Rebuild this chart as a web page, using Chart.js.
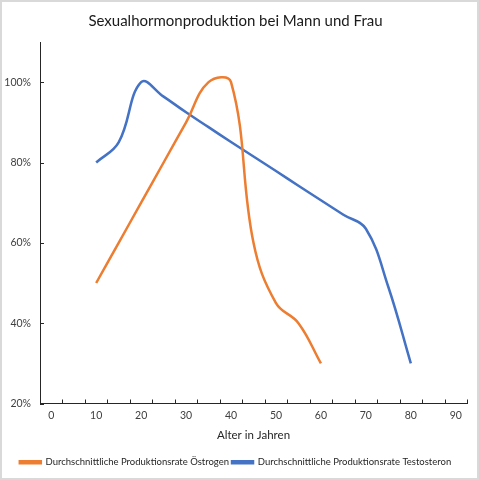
<!DOCTYPE html>
<html lang="de">
<head>
<meta charset="utf-8">
<title>Sexualhormonproduktion bei Mann und Frau</title>
<script src="https://cdn.jsdelivr.net/npm/chart.js@4/dist/chart.umd.min.js"></script>
<style>
  html, body { margin: 0; padding: 0; background: #fff; }
  #rahmen { position: relative; width: 479px; height: 480px; }
  #rahmen::after {
    content: ""; position: absolute; inset: 0;
    border: 2px solid #d9d9d9; pointer-events: none;
  }
  canvas { display: block; }
</style>
</head>
<body>
<div id="rahmen"><canvas id="grafik" width="479" height="480"></canvas></div>
<script>
// Werte
const alterOestrogen = [10, 15, 20, 25, 30, 35, 40, 45, 50, 55, 60];
const oestrogen = [50, 60, 70, 80, 90, 100, 100, 60, 45, 40, 30];

const alterTestosteron = [10, 15, 20, 25, 30, 35, 40, 45, 50, 55, 60, 65, 70, 75, 80];
const testosteron = [80, 85, 100, 96.4, 92.5, 88.8, 85.1, 81.5, 77.9, 74.2, 70.6, 67, 63.5, 49, 30];

const xBeschriftung = [0, 10, 20, 30, 40, 50, 60, 70, 80, 90];
const xStriche = [2.5, 7.5, 12.5, 17.5, 22.5, 27.5, 32.5, 37.5, 42.5, 47.5, 52.5, 57.5, 62.5, 67.5, 72.5, 77.5, 82.5, 87.5, 92.5];
const yBeschriftung = [20, 40, 60, 80, 100];

const schrift = "Lato, 'Noto Sans', sans-serif";
const achsenFarbe = "#262626";

function punkte(xs, ys) {
  return xs.map((x, i) => ({ x: x, y: ys[i] }));
}

// kleine Striche nach innen wie in Excel
const innenStriche = {
  id: "innenStriche",
  afterDraw(chart) {
    const { ctx, chartArea } = chart;
    const x = chart.scales.x;
    const y = chart.scales.y;
    ctx.save();
    ctx.strokeStyle = achsenFarbe;
    ctx.lineWidth = 1;
    ctx.beginPath();
    xStriche.forEach((v) => {
      const px = Math.round(x.getPixelForValue(v)) + 0.5;
      ctx.moveTo(px, chartArea.bottom);
      ctx.lineTo(px, chartArea.bottom - 4);
    });
    yBeschriftung.forEach((v) => {
      const py = Math.round(y.getPixelForValue(v)) + 0.5;
      ctx.moveTo(chartArea.left, py);
      ctx.lineTo(chartArea.left + 4, py);
    });
    ctx.stroke();
    ctx.restore();
  },
};

new Chart(document.getElementById("grafik"), {
  type: "line",
  data: {
    datasets: [
      {
        label: "Durchschnittliche Produktionsrate Östrogen",
        data: punkte(alterOestrogen, oestrogen),
        borderColor: "#ED7D31",
        backgroundColor: "#ED7D31",
        borderWidth: 2.5,
        pointRadius: 0,
        tension: 0.4,
      },
      {
        label: "Durchschnittliche Produktionsrate Testosteron",
        data: punkte(alterTestosteron, testosteron),
        borderColor: "#4472C4",
        backgroundColor: "#4472C4",
        borderWidth: 2.5,
        pointRadius: 0,
        tension: 0.4,
      },
    ],
  },
  options: {
    responsive: false,
    animation: false,
    layout: { padding: { top: 6, left: 4, right: 12, bottom: 3 } },
    plugins: {
      title: {
        display: true,
        text: "Sexualhormonproduktion bei Mann und Frau",
        color: "#1a1a1a",
        font: { family: schrift, size: 15, weight: "normal" },
        padding: { top: 6, bottom: 12 },
      },
      legend: {
        position: "bottom",
        labels: {
          color: "#262626",
          font: { family: schrift, size: 9.5 },
          boxWidth: 21,
          boxHeight: 2,
          padding: 3,
        },
      },
      tooltip: { enabled: false },
    },
    scales: {
      x: {
        type: "linear",
        min: -2.5,
        max: 92.5,
        afterBuildTicks: (achse) => {
          achse.ticks = xBeschriftung.map((v) => ({ value: v }));
        },
        afterFit: (achse) => {
          achse.height = 51;
        },
        ticks: {
          color: "#404040",
          font: { family: schrift, size: 10.5 },
          padding: 6,
          maxRotation: 0,
        },
        grid: { display: false, drawTicks: false },
        border: { display: true, color: achsenFarbe, width: 1 },
        title: {
          display: true,
          text: "Alter in Jahren",
          color: "#262626",
          font: { family: schrift, size: 11.5 },
          padding: { top: 0, bottom: 12 },
        },
      },
      y: {
        min: 20,
        max: 110,
        afterBuildTicks: (achse) => {
          achse.ticks = yBeschriftung.map((v) => ({ value: v }));
        },
        afterFit: (achse) => {
          achse.width = 36;
        },
        ticks: {
          color: "#404040",
          font: { family: schrift, size: 10.5 },
          padding: 9,
          callback: (v) => v + "%",
        },
        grid: { display: false, drawTicks: false },
        border: { display: true, color: achsenFarbe, width: 1 },
      },
    },
  },
  plugins: [innenStriche],
});
</script>
</body>
</html>
